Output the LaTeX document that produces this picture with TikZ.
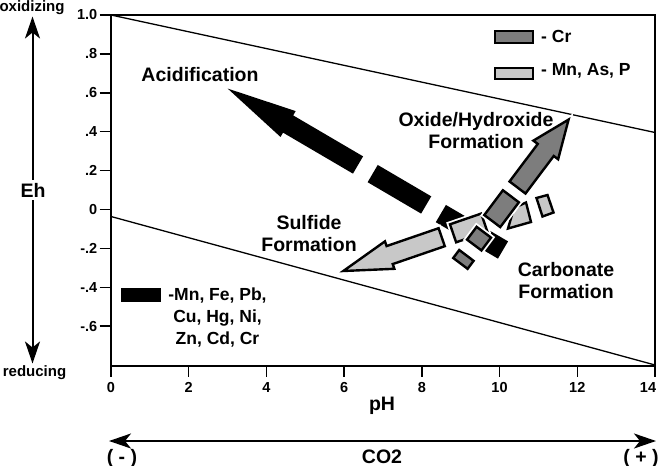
\documentclass[tikz,border=0pt]{standalone}
\usepackage{fontspec}
\setmainfont{Liberation Sans}
\usetikzlibrary{arrows.meta}
\definecolor{dgray}{RGB}{125,125,125}
\definecolor{lgray}{RGB}{200,200,200}
\begin{document}
\begin{tikzpicture}[x=1pt,y=-1pt,
  lbl/.style={font=\fontsize{19.5}{22}\selectfont\bfseries, align=center, inner sep=0pt},
  leg/.style={font=\fontsize{17.5}{21.7}\selectfont\bfseries, inner sep=0pt},
  tck/.style={font=\fontsize{14.5}{16}\selectfont\bfseries, inner sep=0pt},
  sml/.style={font=\fontsize{15}{17}\selectfont\bfseries, inner sep=0pt},
  frameline/.style={line width=2pt},
  tickline/.style={line width=1.5pt},
  diagline/.style={line width=1.3pt},
  piece/.style={draw=black, line width=2.4pt, line join=miter, preaction={draw=white, line width=6pt}},
  dpiece/.style={piece, fill=dgray},
  lpiece/.style={piece, fill=lgray},
  bpiece/.style={fill=black},
  bigarrow/.style={line width=2pt, {Stealth[length=22pt,width=15pt,inset=6pt]}-{Stealth[length=22pt,width=15pt,inset=6pt]}}
]
\useasboundingbox (0,0) rectangle (659,466);

% frame and diagonal lines
\draw[frameline] (111,15) rectangle (655,365.7);
\draw[diagline] (111,15) -- (655,132.5);
\draw[diagline] (111,216.5) -- (655,365);

% Eh ticks and labels
\foreach \k/\t in {0/1.0,1/.8,2/.6,3/.4,4/.2,5/0,6/-.2,7/-.4,8/-.6}{
  \draw[tickline] (99.5,{15+\k*38.9}) -- (111,{15+\k*38.9});
  \node[tck, anchor=east] (ehl\k) at (97.5,{15+\k*38.9}) {\t};
}
% pH ticks and labels
\foreach \k in {0,...,7}{
  \draw[tickline] ({111+\k*77.71},365.7) -- ({111+\k*77.71},377);
}
\foreach \k in {0,...,6}{
  \pgfmathtruncatemacro\lab{2*\k}
  \node[tck] (phl\k) at ({111+\k*77.71},387.5) {\lab};
}
\node[tck] (phl7) at (648,387.5) {14};

% Eh axis arrow
\coordinate (ehTop) at (32.5,16.5);
\coordinate (ehBot) at (32.5,363.5);
\draw[bigarrow] (ehBot) -- (ehTop);
\node[sml, anchor=base] (oxi) at (32,11) {oxidizing};
\node[sml, anchor=base] (red) at (34.5,376.5) {reducing};
\node[lbl, fill=white, inner sep=3pt] (eh) at (33,190) {Eh};

% pH and CO2
\node[lbl, anchor=base] (ph) at (382,410) {pH};
\coordinate (co2L) at (109,441);
\coordinate (co2R) at (656,441);
\draw[bigarrow] (co2L) -- (co2R);
\node[lbl, anchor=base] (co2) at (382,463) {CO2};
\node[lbl, anchor=base] (minus) at (122,463) {( - )};
\node[lbl, anchor=base] (plus) at (641,463) {( + )};

% legend
\draw[line width=2pt, fill=dgray] (495,31) rectangle (532.5,42.5);
\draw[line width=2pt, fill=lgray] (495,67.5) rectangle (532.5,78.5);
\node[leg, anchor=base west] (tCr) at (541,42) {- Cr};
\node[leg, anchor=base west] (tMn) at (541,75.5) {- Mn, As, P};
\fill (120.7,288.3) rectangle (160.7,301.7);
\node[leg, anchor=base] (tb1) at (217.5,300.7) {-Mn, Fe, Pb,};
\node[leg, anchor=base] (tb2) at (217.5,322.7) {Cu, Hg, Ni,};
\node[leg, anchor=base] (tb3) at (217.5,344.2) {Zn, Cd, Cr};

% labels
\node[lbl] (acid) at (200,75) {Acidification};
\node[lbl] (oxh) at (476,130.5) {Oxide/Hydroxide\\Formation};
\node[lbl] (sulf) at (309,234) {Sulfide\\Formation};
\node[lbl] (carb) at (566,281) {Carbonate\\Formation};

% black acidification arrow (broken)
\fill[bpiece] (363.08,156.36) -- (293.16,115.38) -- (295.69,111.07) -- (227.70,88.59)
  -- (280.51,136.96) -- (283.04,132.64) -- (352.96,173.62) -- cycle;
\fill[bpiece] (377.75,164.96) -- (431.25,196.34) -- (421.13,213.60) -- (367.63,182.22) -- cycle;
\fill[bpiece] (445.92,204.94) -- (508.06,241.37) -- (497.94,258.63) -- (435.80,222.20) -- cycle;

% light gray sulfide arrow
\draw[lpiece] (438.61,228.21) -- (386.58,246.09) -- (384.96,241.36) -- (343.32,271.0)
  -- (394.38,268.80) -- (392.76,264.07) -- (444.79,246.19) -- cycle;
\draw[lpiece] (449.96,224.31) -- (481.18,213.59) -- (487.36,231.57) -- (456.14,242.29) -- cycle;
\draw[lpiece] (514,208) -- (526,202.5) -- (531,222) -- (508,228.5) -- cycle;
\draw[lpiece] (536.5,198) -- (547.5,195) -- (553.5,212.5) -- (542.5,216.5) -- cycle;

% dark gray oxide arrow
\draw[dpiece] (509.51,181.49) -- (537.76,143.94) -- (533.37,140.63) -- (568.59,119.58)
  -- (558.13,159.27) -- (553.74,155.96) -- (525.49,193.51) -- cycle;
\draw[dpiece] (502.90,190.28) -- (518.88,202.30) -- (500.25,227.07) -- (484.27,215.05) -- cycle;
\draw[dpiece] (476.65,226.83) -- (491.03,237.65) -- (481.42,250.44) -- (467.04,239.62) -- cycle;
\draw[dpiece] (459.22,250.01) -- (473.60,260.83) -- (467.59,268.82) -- (453.21,258.0) -- cycle;
\end{tikzpicture}
\end{document}
